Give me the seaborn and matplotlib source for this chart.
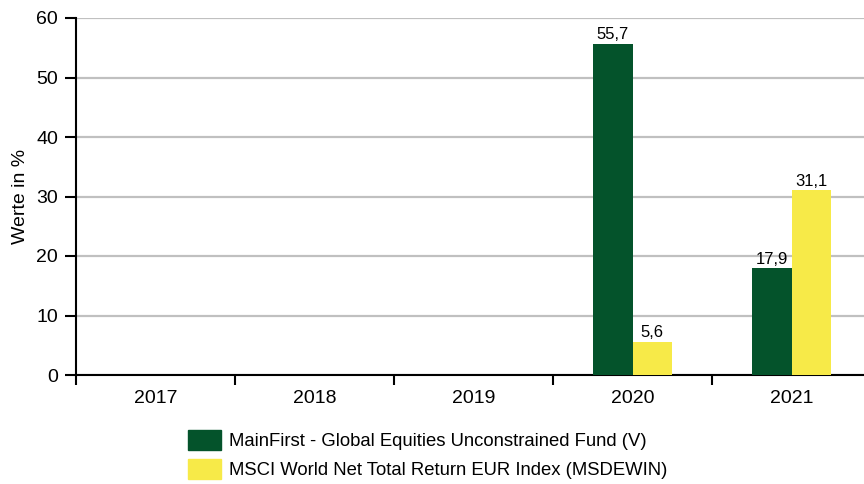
import numpy as np
import pandas as pd
import seaborn as sns
import matplotlib.pyplot as plt
from matplotlib.patches import Patch

years = ["2017", "2018", "2019", "2020", "2021"]
fund_name = "MainFirst - Global Equities Unconstrained Fund (V)"
index_name = "MSCI World Net Total Return EUR Index (MSDEWIN)"
fund_values = [np.nan, np.nan, np.nan, 55.7, 17.9]
index_values = [np.nan, np.nan, np.nan, 5.6, 31.1]

df = pd.DataFrame({
    "year": years * 2,
    "series": [fund_name] * len(years) + [index_name] * len(years),
    "value": fund_values + index_values,
})

sns.set_style("white", {"text.color": "black", "axes.labelcolor": "black",
                        "xtick.color": "black", "ytick.color": "black"})
plt.rcParams["font.family"] = ["Liberation Sans", "DejaVu Sans"]

pal = {fund_name: "#04532B", index_name: "#F7EA48"}

fig = plt.figure(figsize=(8.64, 4.84), dpi=100)
ax = fig.add_axes([76 / 864, 1 - 375 / 484, 795 / 864, 357 / 484])

sns.barplot(data=df, x="year", y="value", hue="series", order=years,
            hue_order=[fund_name, index_name], palette=pal, width=0.5,
            saturation=1, linewidth=0, legend=False, ax=ax, zorder=3)

for c in ax.containers:
    labels = ["" if np.isnan(v) else f"{v:.1f}".replace(".", ",") for v in c.datavalues]
    ax.bar_label(c, labels=labels, padding=1, fontsize=12)

ax.set_ylim(0, 60)
ax.set_xlim(-0.5, 4.5)
ax.set_yticks(range(0, 61, 10))
ax.yaxis.grid(True, color="#c0c0c0", linewidth=1.6, zorder=0)
ax.set_axisbelow(True)
ax.set_xlabel("")
ax.set_ylabel("Werte in %", fontsize=14)
ax.yaxis.set_label_coords(-0.059, 0.5)
sns.despine(ax=ax)
for s in ["left", "bottom"]:
    ax.spines[s].set_linewidth(1.5)
    ax.spines[s].set_color("black")
ax.tick_params(axis="y", direction="out", length=8, width=1.5, labelsize=14, left=True, pad=5)
ax.tick_params(axis="x", which="major", length=0, labelsize=14, pad=11)
ax.set_xticks(np.arange(-0.5, 4.6, 1), minor=True)
ax.tick_params(axis="x", which="minor", direction="out", length=7, width=1.5, bottom=True)

handles = [Patch(color=pal[fund_name], label=fund_name),
           Patch(color=pal[index_name], label=index_name)]
fig.legend(handles=handles, loc="upper left", bbox_to_anchor=(188 / 864, 1 - 430 / 484),
           frameon=False, fontsize=13.3, handlelength=1.78, handleheight=1.25,
           handletextpad=0.43, labelspacing=0.5, borderpad=0, borderaxespad=0)

fig.savefig("out.png", dpi=100)
